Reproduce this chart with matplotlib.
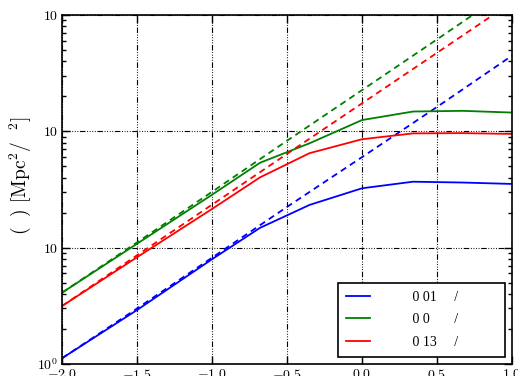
import numpy as np
import matplotlib
matplotlib.use("Agg")
import matplotlib.pyplot as plt
from matplotlib.ticker import FixedLocator, FixedFormatter, LogLocator, NullFormatter

plt.rcParams['mathtext.fontset'] = 'cm'
plt.rcParams['font.family'] = ['Liberation Serif', 'DejaVu Serif']

# log10(k) nodes of the nonlinear curves
x_nl = [-2.0, -1.5, -1.0, -0.68, -0.35, 0.0, 0.34, 0.67, 1.0]
blue_nl = [1.12, 2.91, 7.95, 14.8, 23.3, 32.4, 36.9, 36.3, 35.3]
green_nl = [4.1, 10.8, 28.5, 53.7, 78.9, 125, 148, 150, 145]
red_nl = [3.15, 8.27, 21.5, 40.2, 64.9, 85.5, 96, 96.5, 95]

# linear curves (dashed)
x_lin = [-2.0, -1.5, -1.0, -0.5, 0.0, 0.5, 1.0]
blue_lin = [1.12, 3.0, 8.2, 22.4, 60, 162, 447]
green_lin = [4.1, 11.1, 30.2, 83, 226, 617, 1700]
red_lin = [3.15, 8.6, 23.4, 64, 174, 473, 1290]

labels = ['         0 01     /           ',
          '         0 0       /           ',
          '         0 13     /           ']
xticks = [-2.0, -1.5, -1.0, -0.5, 0.0, 0.5, 1.0]
xticklabels = [r'$-2.0$', r'$-1.5$', r'$-1.0$', r'$-0.5$', r'$0.0$', r'$0.5$', r'$1.0$']
yticks = [1, 10, 100, 1000]
yticklabels = [r'$10^0$', r'$10$', r'$10$', r'$10$']

fig = plt.figure(figsize=(5.18, 3.76), dpi=100)
ax = fig.add_axes([62/518, 12/376, 450/518, 349/376])

cols = ['#0000ff', '#008000', '#ff0000']
nl = [blue_nl, green_nl, red_nl]
lin = [blue_lin, green_lin, red_lin]
for c, yn, yl, lab in zip(cols, nl, lin, labels):
    ax.plot(x_nl, yn, color=c, lw=1.3, label=lab)
    ax.plot(x_lin, yl, color=c, lw=1.3, ls=(0, (3.5, 2.5)))

ax.set_yscale('log')
ax.set_xlim(-2.0, 1.0)
ax.set_ylim(1, 1000)

ax.xaxis.set_major_locator(FixedLocator(xticks))
ax.xaxis.set_major_formatter(FixedFormatter(xticklabels))
ax.yaxis.set_major_locator(FixedLocator(yticks))
ax.yaxis.set_major_formatter(FixedFormatter(yticklabels))
ax.yaxis.set_minor_locator(LogLocator(base=10, subs=np.arange(2, 10)))
ax.yaxis.set_minor_formatter(NullFormatter())

ax.tick_params(which='both', direction='in', top=True, right=True, labelsize=10, width=1)
ax.tick_params(which='major', length=6, pad=3)
ax.tick_params(which='minor', length=3)
for s in ax.spines.values():
    s.set_linewidth(1.2)

ax.grid(True, which='major', color='k', lw=0.8,
        ls=(0, (5, 1.5, 0.8, 1.5, 0.8, 1.5, 0.8, 1.5, 0.8, 1.5)))

ax.set_ylabel(r'$(\ \ )\ [\mathrm{Mpc}^2/\ \ ^2]$', fontsize=14)
ax.yaxis.set_label_coords(-0.064, 0.54)

leg = ax.legend(loc='lower right', fontsize=10, frameon=True, fancybox=False,
                edgecolor='k', framealpha=1, handlelength=1.7, borderpad=0.6,
                labelspacing=0.68, borderaxespad=0.5, handletextpad=0.8)
leg.get_frame().set_linewidth(1.2)

fig.savefig('out.png', dpi=100)
